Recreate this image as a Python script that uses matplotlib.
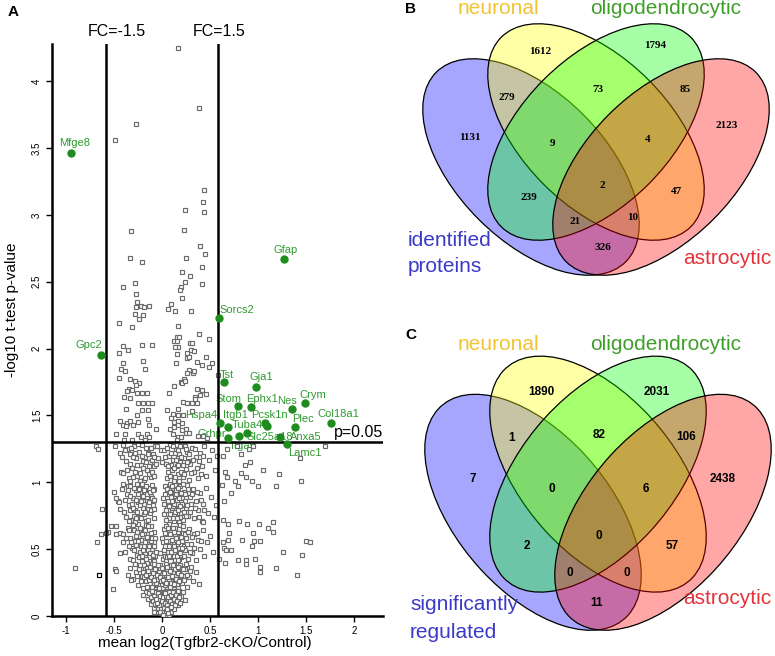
import numpy as np
import matplotlib
matplotlib.use("Agg")
import matplotlib.pyplot as plt
from matplotlib.patches import Ellipse
from matplotlib.transforms import Affine2D

plt.rcParams['font.family'] = ['Liberation Sans', 'DejaVu Sans']

# ---------------- panel A: volcano plot ----------------
# proteins above p=0.05 between the FC lines
upper_pts = [(0.17,4.25),(0.38,3.80),(-0.27,3.68),(-0.49,3.56),(0.44,3.19),(0.42,3.10),(0.24,3.04),(0.44,3.02),
    (-0.32,2.88),(0.23,2.89),(0.39,2.77),(0.45,2.71),(-0.33,2.68),(0.25,2.68),(-0.21,2.65),(0.41,2.61),(0.21,2.57),
    (0.29,2.54),(0.24,2.50),(-0.28,2.49),(0.41,2.48),(-0.41,2.46),(0.20,2.46),(0.19,2.44),(-0.27,2.41),(0.21,2.38),
    (-0.26,2.35),(-0.22,2.32),(-0.19,2.31),(-0.14,2.32),(-0.27,2.31),(0.09,2.33),(0.06,2.30),(0.13,2.28),(0.30,2.28),
    (-0.28,2.26),(-0.20,2.25),(-0.24,2.22),(-0.45,2.19),(-0.31,2.16),(0.17,2.17),
    (0.15,2.09),(0.18,2.09),(0.38,2.11),(0.12,2.06),(0.15,2.06),(-0.21,2.03),(-0.11,2.03),(-0.41,2.02),(0.29,2.04),
    (0.31,2.04),(0.16,2.01),(0.13,2.01),(0.30,1.99),(0.49,2.07),(-0.36,1.99),(-0.45,1.97),(0.15,1.96),(0.26,1.97),
    (0.33,1.98),(-0.20,1.91),(0.26,1.93),(0.28,1.94),(-0.41,1.89),(0.14,1.89),(0.36,1.90),(0.41,1.88),(0.46,1.94),
    (0.52,1.89),(0.49,1.86),(-0.43,1.85),(-0.39,1.83),(-0.18,1.85),(0.28,1.84),(0.26,1.82),(0.32,1.82),(0.33,1.83),
    (-0.45,1.78),(-0.34,1.77),(-0.28,1.76),(-0.24,1.74),(-0.27,1.73),(0.20,1.75),(0.23,1.77),(0.21,1.74),(0.24,1.76),
    (-0.35,1.70),(-0.37,1.68),(-0.31,1.69),(-0.21,1.67),(-0.16,1.67),(-0.26,1.67),(0.07,1.67),(0.12,1.72),(0.36,1.70),
    (0.41,1.69),(0.46,1.66),(-0.40,1.64),(-0.34,1.63),(0.34,1.64),(0.39,1.65),(-0.25,1.59),(-0.20,1.59),(-0.15,1.59),
    (-0.11,1.59),(0.22,1.60),(0.26,1.59),(0.31,1.59),(0.36,1.59),(0.34,1.62),(-0.38,1.55),(-0.21,1.54),(-0.15,1.54),
    (0.05,1.54),(0.16,1.55),(0.31,1.53),(-0.26,1.50),(0.11,1.51),(0.16,1.50),(0.22,1.50),(-0.44,1.46),(-0.41,1.43),
    (-0.37,1.44),(-0.34,1.46),(-0.38,1.42),(-0.25,1.45),(-0.30,1.43),(-0.15,1.47),(-0.14,1.43),(-0.06,1.40),(0.09,1.48),
    (0.12,1.45),(0.16,1.46),(0.08,1.40),(0.12,1.41),(0.17,1.43),(0.21,1.44),(0.25,1.40),(0.21,1.39),(0.25,1.37),
    (-0.48,1.36),(-0.39,1.36),(-0.25,1.36),(-0.22,1.34),(-0.16,1.36),(-0.14,1.34),(-0.18,1.32),(-0.40,1.32),(-0.31,1.32),
    (0.11,1.36),(0.16,1.34),(0.15,1.32),(0.20,1.34),(0.28,1.37),(0.37,1.35),(0.47,1.33),(0.42,1.35),(0.58,1.80)]

# proteins right of FC=1.5 but not significant
right_pts = [(1.69,1.27),(1.44,1.18),(0.90,1.25),(0.95,1.27),(0.82,1.21),(0.78,1.27),(0.63,1.20),(0.67,1.25),
    (0.91,1.15),(0.86,1.13),(1.05,1.09),(1.22,1.06),(1.45,1.01),(0.82,1.07),(0.87,1.04),(0.93,1.01),(0.76,1.01),
    (1.00,0.97),(1.18,0.97),(0.79,0.97),(0.72,0.92),(0.64,0.86),(0.63,0.72),(0.69,0.69),(0.80,0.71),(0.88,0.69),
    (1.01,0.69),(1.15,0.70),(1.10,0.66),(1.15,0.63),(0.70,0.62),(0.95,0.62),(0.83,0.57),(0.96,0.56),(1.02,0.56),
    (0.93,0.52),(1.50,0.56),(1.54,0.55),(1.26,0.48),(1.46,0.46),(0.63,0.55),(0.69,0.57),(0.64,0.51),(0.66,0.49),
    (0.72,0.49),(0.97,0.43),(0.79,0.42),(0.87,0.42),(0.87,0.39),(0.65,0.40),(1.02,0.37),(1.02,0.33),(1.18,0.36),
    (1.40,0.31),(0.59,0.43),(0.65,1.08),(0.68,1.04),(0.62,0.98)]

# proteins left of FC=-1.5 but not significant
left_pts = [(-0.69,1.27),(-0.67,1.25),(-0.63,0.80),(-0.64,0.61),(-0.68,0.55),(-0.91,0.36)]
odd_pt = (-0.66, 0.31)

# the dense non-regulated core
core_pts = [
    (-0.49,1.27),(-0.44,1.22),(-0.41,1.28),(-0.38,1.16),(-0.36,1.25),(-0.33,1.21),(-0.31,1.11),(-0.29,1.27),(-0.27,1.18),
    (-0.26,1.05),(-0.24,1.23),(-0.22,1.13),(-0.21,1.28),(-0.19,1.02),(-0.18,1.19),(-0.16,1.09),(-0.15,1.25),(-0.13,1.15),
    (-0.12,1.04),(-0.10,1.21),(-0.09,1.12),(-0.07,1.27),(-0.43,1.08),(-0.35,1.03),(-0.30,1.19),(-0.28,1.08),(-0.23,1.01),
    (-0.20,1.16),(-0.17,1.26),(-0.14,1.06),(-0.11,1.17),(-0.04,1.18),(-0.01,1.24),(0.00,1.15),(-0.05,1.27),
    (0.02,1.24),(0.04,1.14),(0.05,1.03),(0.07,1.20),(0.08,1.28),(0.10,1.09),(0.11,1.17),(0.12,1.01),(0.14,1.25),
    (0.15,1.12),(0.17,1.06),(0.18,1.21),(0.19,1.15),(0.21,1.27),(0.22,1.04),(0.23,1.18),(0.25,1.10),(0.26,1.23),
    (0.28,1.02),(0.29,1.14),(0.31,1.26),(0.33,1.08),(0.35,1.19),(0.37,1.03),(0.39,1.22),(0.41,1.12),(0.44,1.27),
    (0.46,1.05),(0.49,1.17),(0.52,1.24),(0.55,1.09),(0.57,1.20),(0.09,1.13),(0.16,1.18),(0.20,1.08),(0.27,1.16),
    (0.13,1.22),(0.24,1.27),(0.06,1.08),(-0.41,1.07),(-0.36,0.97),
    (-0.46,0.86),(-0.42,0.95),(-0.40,0.78),(-0.37,0.91),(-0.35,0.83),(-0.33,0.97),(-0.32,0.72),(-0.30,0.88),(-0.28,0.79),
    (-0.27,0.94),(-0.25,0.85),(-0.24,0.74),(-0.22,0.98),(-0.21,0.89),(-0.20,0.81),(-0.18,0.93),(-0.17,0.71),(-0.16,0.86),
    (-0.14,0.96),(-0.13,0.77),(-0.12,0.90),(-0.10,0.83),(-0.09,0.73),(-0.08,0.95),(-0.29,0.75),(-0.26,0.99),(-0.23,0.92),
    (-0.19,0.76),(-0.15,0.80),(-0.11,0.98),(-0.38,0.74),(-0.34,0.90),(-0.44,0.80),(-0.50,0.93),(-0.48,0.88),(-0.45,0.85),
    (0.01,0.88),(0.02,0.76),(0.03,0.97),(0.05,0.82),(0.06,0.91),(0.07,0.73),(0.08,0.99),(0.09,0.85),(0.10,0.78),
    (0.11,0.94),(0.12,0.71),(0.13,0.87),(0.14,0.80),(0.15,0.96),(0.16,0.74),(0.17,0.90),(0.18,0.83),(0.19,0.97),
    (0.20,0.77),(0.21,0.88),(0.22,0.72),(0.23,0.93),(0.25,0.81),(0.26,0.98),(0.27,0.75),(0.29,0.89),(0.30,0.84),
    (0.32,0.95),(0.33,0.73),(0.35,0.86),(0.37,0.79),(0.39,0.92),(0.41,0.71),(0.43,0.84),(0.46,0.96),(0.48,0.77),
    (0.51,0.89),(0.54,0.74),(0.56,0.83),(0.04,0.72),(0.09,0.93),(0.13,0.98),(0.18,0.70),(0.24,0.86),(0.28,0.92),
    (0.16,0.84),(0.06,0.79),(0.11,0.82),(0.21,0.80),(0.14,0.91),
    (-0.44,0.62),(-0.41,0.55),(-0.39,0.48),(-0.36,0.66),(-0.34,0.58),(-0.33,0.43),(-0.31,0.51),(-0.29,0.64),(-0.28,0.56),
    (-0.26,0.46),(-0.25,0.69),(-0.24,0.60),(-0.22,0.52),(-0.21,0.41),(-0.20,0.65),(-0.19,0.57),(-0.18,0.47),(-0.17,0.68),
    (-0.16,0.54),(-0.15,0.61),(-0.14,0.44),(-0.13,0.58),(-0.12,0.67),(-0.11,0.50),(-0.10,0.42),(-0.09,0.63),(-0.08,0.55),
    (-0.07,0.45),(-0.23,0.48),(-0.27,0.60),(-0.30,0.42),(-0.35,0.52),(-0.19,0.62),(-0.15,0.49),(-0.12,0.56),
    (-0.56,0.63),(-0.48,0.67),(-0.48,0.61),(-0.41,0.61),(-0.44,0.47),(-0.35,0.71),(-0.53,0.67),(-0.58,0.62),
    (-0.02,0.47),(0.00,0.58),(0.01,0.43),(0.02,0.65),(0.03,0.52),(0.04,0.41),(0.05,0.61),(0.06,0.48),(0.07,0.69),
    (0.08,0.55),(0.09,0.44),(0.10,0.63),(0.11,0.50),(0.12,0.57),(0.13,0.42),(0.14,0.66),(0.15,0.53),(0.16,0.46),
    (0.17,0.60),(0.18,0.51),(0.19,0.68),(0.20,0.44),(0.21,0.56),(0.22,0.62),(0.24,0.49),(0.25,0.58),(0.27,0.43),
    (0.28,0.65),(0.30,0.54),(0.31,0.47),(0.33,0.61),(0.35,0.42),(0.37,0.57),(0.39,0.50),(0.42,0.64),(0.44,0.45),
    (0.47,0.55),(0.50,0.60),(0.53,0.48),(0.03,0.45),(0.06,0.56),(0.09,0.64),(0.12,0.45),(0.15,0.59),(0.18,0.43),
    (0.23,0.52),(0.04,0.67),(0.10,0.52),(0.13,0.61),(0.43,0.70),
    (-0.33,0.36),(-0.30,0.28),(-0.27,0.33),(-0.25,0.23),(-0.23,0.38),(-0.21,0.30),(-0.20,0.21),(-0.18,0.35),(-0.17,0.26),
    (-0.15,0.39),(-0.14,0.31),(-0.13,0.22),(-0.12,0.34),(-0.11,0.27),(-0.10,0.37),(-0.09,0.24),(-0.08,0.32),(-0.07,0.20),
    (-0.06,0.36),(-0.05,0.28),(-0.04,0.23),(-0.03,0.33),(-0.02,0.38),(-0.01,0.26),(0.00,0.31),(0.01,0.21),(0.02,0.35),
    (0.03,0.28),(0.04,0.39),(0.05,0.24),(0.06,0.32),(0.07,0.37),(0.08,0.22),(0.09,0.29),(0.10,0.34),(0.11,0.26),
    (0.12,0.39),(0.13,0.23),(0.14,0.31),(0.15,0.36),(0.16,0.27),(0.17,0.21),(0.18,0.33),(0.19,0.38),(0.21,0.25),
    (0.22,0.30),(0.24,0.35),(0.26,0.22),(0.28,0.29),(0.30,0.37),(0.32,0.26),(0.35,0.33),(0.38,0.24),(-0.16,0.22),
    (-0.19,0.29),(-0.06,0.25),(0.03,0.23),(0.07,0.27),(0.11,0.33),(0.15,0.24),(0.20,0.36),(0.00,0.36),(-0.03,0.21),
    (0.05,0.35),(0.09,0.38),(0.13,0.28),(-0.09,0.30),(-0.28,0.39),(0.25,0.39),(-0.51,0.20),(-0.49,0.35),(-0.48,0.34),
    (-0.36,0.31),(-0.32,0.27),
    (-0.17,0.18),(-0.15,0.13),(-0.13,0.19),(-0.12,0.09),(-0.11,0.15),(-0.10,0.17),(-0.09,0.06),(-0.08,0.12),(-0.07,0.19),
    (-0.06,0.08),(-0.05,0.14),(-0.05,0.03),(-0.04,0.11),(-0.03,0.17),(-0.03,0.05),(-0.02,0.09),(-0.01,0.13),(-0.01,0.02),
    (0.00,0.07),(0.00,0.16),(0.01,0.04),(0.01,0.11),(0.02,0.01),(0.02,0.08),(0.03,0.14),(0.03,0.05),(0.04,0.19),
    (0.04,0.10),(0.05,0.02),(0.05,0.13),(0.06,0.07),(0.06,0.17),(0.07,0.10),(0.08,0.04),(0.08,0.15),(0.09,0.12),
    (0.10,0.18),(0.10,0.07),(0.11,0.14),(0.12,0.10),(0.13,0.19),(0.14,0.13),(0.15,0.17),(0.17,0.11),(0.18,0.19),
    (0.20,0.15),(0.22,0.18),(-0.20,0.16),(-0.08,0.03),(-0.04,0.06),(0.01,0.18),(0.03,0.00),(0.07,0.01),(-0.02,0.12),
    (0.09,0.03),(-0.06,0.16),(0.02,0.15),(0.06,0.12),(-0.10,0.11),(0.12,0.05),(-0.14,0.17),(0.16,0.08),(0.24,0.12),
    (-0.01,0.08),
    # left arm, second pass
    (-0.42,1.19),(-0.39,1.24),(-0.37,1.09),(-0.34,1.14),(-0.32,1.26),(-0.30,1.04),(-0.28,1.22),(-0.26,1.13),(-0.25,1.29),
    (-0.23,1.07),(-0.21,1.20),(-0.20,1.11),(-0.18,1.03),(-0.17,1.15),(-0.15,1.21),(-0.14,1.12),(-0.12,1.26),(-0.11,1.08),
    (-0.09,1.19),(-0.08,1.05),(-0.06,1.14),
    (-0.41,0.99),(-0.39,0.87),(-0.36,0.94),(-0.34,0.79),(-0.33,1.01),(-0.31,0.84),(-0.29,0.96),(-0.28,0.70),(-0.27,0.87),
    (-0.26,0.78),(-0.24,0.95),(-0.23,0.83),(-0.22,0.73),(-0.21,0.99),(-0.20,0.90),(-0.19,0.84),(-0.18,0.78),(-0.17,0.97),
    (-0.16,0.91),(-0.15,0.72),(-0.14,0.85),(-0.13,0.93),(-0.12,0.79),(-0.11,0.88),(-0.10,0.94),(-0.09,0.80),(-0.08,0.87),
    (-0.25,0.91),(-0.22,0.86),(-0.19,0.94),(-0.30,0.81),(-0.27,0.73),
    (-0.38,0.58),(-0.35,0.64),(-0.32,0.55),(-0.30,0.68),(-0.29,0.49),(-0.27,0.53),(-0.26,0.63),(-0.24,0.44),(-0.23,0.66),
    (-0.22,0.57),(-0.21,0.61),(-0.20,0.49),(-0.19,0.52),(-0.18,0.64),(-0.17,0.43),(-0.16,0.59),(-0.15,0.67),(-0.14,0.52),
    (-0.13,0.47),(-0.12,0.62),(-0.11,0.58),(-0.10,0.46),(-0.09,0.52),(-0.08,0.41),(-0.07,0.58),(-0.06,0.48),(-0.21,0.45),
    (-0.18,0.55),(-0.25,0.56),(-0.16,0.40),
    (-0.26,0.30),(-0.24,0.35),(-0.22,0.26),(-0.20,0.33),(-0.19,0.38),(-0.17,0.31),(-0.16,0.36),(-0.14,0.27),(-0.13,0.37),
    (-0.12,0.29),(-0.11,0.22),(-0.10,0.32),(-0.08,0.27),(-0.07,0.35),(-0.05,0.31),(-0.04,0.38),(-0.02,0.29),(-0.15,0.34),
    (-0.09,0.39),
    # right arm, second pass
    (0.03,1.19),(0.05,1.26),(0.06,1.12),(0.08,1.05),(0.09,1.22),(0.11,1.27),(0.12,1.11),(0.13,1.04),(0.14,1.17),
    (0.16,1.24),(0.17,1.13),(0.18,1.01),(0.19,1.27),(0.20,1.19),(0.22,1.13),(0.23,1.06),(0.25,1.25),(0.26,1.15),
    (0.28,1.21),(0.30,1.07),(0.32,1.17),(0.34,1.25),(0.36,1.11),(0.38,1.16),(0.40,1.06),(0.43,1.20),
    (0.02,0.84),(0.03,0.91),(0.04,0.79),(0.05,0.95),(0.06,0.86),(0.07,0.82),(0.08,0.76),(0.09,0.89),(0.10,0.97),
    (0.11,0.73),(0.12,0.84),(0.13,0.78),(0.14,0.94),(0.15,0.87),(0.16,0.79),(0.17,0.96),(0.18,0.88),(0.19,0.74),
    (0.20,0.92),(0.21,0.84),(0.22,0.99),(0.23,0.78),(0.24,0.91),(0.26,0.83),(0.27,0.95),(0.29,0.78),(0.31,0.91),
    (0.34,0.81),(0.36,0.93),(0.38,0.74),(0.40,0.87),(0.44,0.79),(0.10,0.86),(0.15,0.73),(0.19,0.82),(0.25,0.75),
    (0.08,0.93),
    (0.01,0.55),(0.02,0.49),(0.03,0.62),(0.04,0.56),(0.05,0.44),(0.06,0.66),(0.07,0.52),(0.08,0.61),(0.09,0.48),
    (0.10,0.57),(0.11,0.66),(0.12,0.52),(0.13,0.49),(0.14,0.58),(0.15,0.45),(0.16,0.63),(0.17,0.55),(0.18,0.65),
    (0.19,0.47),(0.20,0.59),(0.21,0.51),(0.22,0.67),(0.23,0.45),(0.24,0.61),(0.26,0.54),(0.27,0.63),(0.29,0.48),
    (0.31,0.59),(0.33,0.51),(0.36,0.62),(0.40,0.56),(0.07,0.45),(0.12,0.63),(0.17,0.42),
    (0.01,0.27),(0.02,0.32),(0.04,0.25),(0.05,0.37),(0.06,0.29),(0.08,0.34),(0.09,0.25),(0.10,0.30),(0.11,0.38),
    (0.12,0.24),(0.13,0.35),(0.14,0.28),(0.16,0.32),(0.17,0.37),(0.18,0.26),(0.20,0.31),(0.22,0.35),(0.23,0.27),
    (0.26,0.31),(0.29,0.34),
    # tip of the V, second pass
    (-0.12,0.14),(-0.09,0.16),(-0.07,0.09),(-0.06,0.13),(-0.04,0.17),(-0.03,0.08),(-0.02,0.15),(-0.01,0.05),(0.00,0.11),
    (0.00,0.03),(0.01,0.14),(0.02,0.06),(0.02,0.18),(0.03,0.10),(0.04,0.04),(0.04,0.15),(0.05,0.08),(0.06,0.02),
    (0.06,0.14),(0.07,0.18),(0.07,0.06),(0.08,0.11),(0.09,0.16),(0.10,0.09),(0.11,0.18),(0.12,0.13),(0.13,0.08),
    (0.14,0.16),(0.15,0.11),(0.16,0.19),(0.18,0.14),(0.19,0.10),(-0.08,0.18),(-0.05,0.10),(-0.02,0.03),(0.01,0.01),
    (0.05,0.05),(-0.11,0.19),(0.09,0.07),(0.03,0.17)]

# significantly regulated proteins (green)
genes = ["Mfge8","Gpc2","Gfap","Sorcs2","Tst","Gja1","Stom","Ephx1","Nes","Crym","Col18a1","Hspa4l",
         "Itgb1","Pcsk1n","Slc25a18","Plec","Tuba4a","Anxa5","Lamc1","Itgav","Grhpr"]
gene_x = [-0.95,-0.64,1.27,0.59,0.64,0.98,0.79,0.92,1.35,1.49,1.76,0.60,0.69,1.07,1.09,1.38,0.88,1.23,1.30,0.80,0.69]
gene_y = [3.46,1.95,2.67,2.23,1.75,1.71,1.57,1.56,1.55,1.59,1.44,1.44,1.41,1.44,1.42,1.41,1.37,1.34,1.29,1.35,1.33]
# label anchor (data units) and alignment for each gene label
gene_lab = {"Mfge8":(-0.91,3.54,"center"),"Gpc2":(-0.76,2.03,"center"),"Gfap":(1.29,2.74,"center"),
            "Sorcs2":(0.60,2.29,"left"),"Tst":(0.60,1.80,"left"),"Gja1":(1.03,1.79,"center"),
            "Stom":(0.69,1.62,"center"),"Ephx1":(1.04,1.62,"center"),"Nes":(1.30,1.61,"center"),
            "Crym":(1.57,1.65,"center"),"Col18a1":(1.83,1.51,"center"),"Hspa4l":(0.42,1.50,"center"),
            "Itgb1":(0.76,1.50,"center"),"Pcsk1n":(1.12,1.50,"center"),"Slc25a18":(1.12,1.34,"center"),
            "Plec":(1.47,1.47,"center"),"Tuba4a":(0.92,1.425,"center"),"Anxa5":(1.50,1.34,"center"),
            "Lamc1":(1.49,1.22,"center"),"Itgav":(0.84,1.27,"center"),"Grhpr":(0.52,1.36,"center")}

XTICKS = [-1, -0.5, 0, 0.5, 1, 1.5, 2]
YTICKS = [0, 0.5, 1, 1.5, 2, 2.5, 3, 3.5, 4]
FC_THRESH = 0.585   # log2(1.5)
P_THRESH = 1.301    # -log10(0.05)

# ---------------- panels B, C: Venn diagrams ----------------
venn_fill = ["#0000ff", "#ffff00", "#00ff00", "#ff0000"]   # identified/sig, neuronal, oligo, astro
venn_text_col = ["#3a3ac8", "#f2c232", "#3d9f2a", "#e5333b"]
# region counts (same region order in both panels)
counts_B = [1612, 1794, 279, 73, 85, 1131, 2123, 9, 4, 2, 239, 47, 21, 10, 326]
counts_C = [1890, 2031, 1, 82, 106, 7, 2438, 0, 6, 0, 2, 57, 0, 0, 11]

# ellipse layout (panel-local pixel frame, y down): centre x, centre y, angle
ELL = [(141, 167, 45), (206, 132, 45), (206, 132, -45), (271, 167, -45)]
ELL_W, ELL_H = 268, 148
pos_B = [(150,52),(265,46),(117,97),(208,90),(295,89),(80,137),(337,126),(162,143),(258,139),(212,186),
         (139,197),(286,192),(185,221),(243,218),(213,247)]
pos_C = [(151,72),(267,72),(122,118),(209,115),(296,117),(83,159),(333,159),(162,169),(256,169),(209,216),
         (137,226),(282,226),(180,253),(237,253),(207,283)]


fig = plt.figure(figsize=(7.75, 6.56), dpi=100)

# ---- A ----
ax = fig.add_axes([51.7/775, 40/656, 331.4/775, 572.2/656])
sq = dict(ls="none", marker="s", ms=3.2, mfc="white", mec="#6b6b6b", mew=0.85, zorder=3)
for pts in (core_pts, upper_pts, right_pts, left_pts):
    a = np.array(pts)
    ax.plot(a[:, 0], a[:, 1], **sq)
ax.plot([odd_pt[0]], [odd_pt[1]], ls="none", marker="s", ms=3.2, mfc="white", mec="black", mew=0.85, zorder=3)

ax.axvline(-FC_THRESH, color="black", lw=1.8, zorder=4)
ax.axvline(FC_THRESH, color="black", lw=1.8, zorder=4)
ax.axhline(P_THRESH, color="black", lw=1.8, zorder=4)

ax.plot(gene_x, gene_y, ls="none", marker="o", ms=5, color="#1e8c1e", zorder=6)
for g in genes:
    tx, ty, ha = gene_lab[g]
    ax.text(tx, ty, g, color="#2f9a2f", fontsize=8, ha=ha, va="center", zorder=2)

ax.text(2.30, 1.37, "p=0.05", fontsize=11.5, ha="right", va="center")
ax.text(-0.47, 4.375, "FC=-1.5", fontsize=11.5, ha="center", va="center", clip_on=False)
ax.text(0.59, 4.375, "FC=1.5", fontsize=11.5, ha="center", va="center", clip_on=False)

ax.set_xlim(-1.15, 2.3)
ax.set_ylim(0, 4.28)
ax.set_xticks(XTICKS)
ax.set_xticklabels([f"{t:g}" for t in XTICKS], fontsize=7)
ax.set_yticks(YTICKS)
ax.set_yticklabels([f"{t:g}" for t in YTICKS], fontsize=7, rotation=90, va="center")
ax.tick_params(direction="out", length=4, width=1, pad=3)
for s in ("top", "right"):
    ax.spines[s].set_visible(False)
for s in ("left", "bottom"):
    ax.spines[s].set_linewidth(1.8)
ax.set_xlabel("mean log2(Tgfbr2-cKO/Control)", fontsize=11, labelpad=1)
ax.xaxis.set_label_coords(0.463, -0.035)
ax.set_ylabel("-log10 t-test p-value", fontsize=11)
ax.yaxis.set_label_coords(-0.10, 0.535)


def venn(top_px, height_px, yscale, yshift, counts, pos, num_font, num_size, cats):
    vx = fig.add_axes([390/775, 1 - (top_px + height_px)/656, 385/775, height_px/656])
    vx.set_xlim(0, 385)
    vx.set_ylim(height_px, 0)
    tr = Affine2D().scale(1, yscale).translate(2 if yscale != 1 else 0, yshift) + vx.transData
    for (cx, cy, ang), col in zip(ELL, venn_fill):
        vx.add_patch(Ellipse((cx, cy), ELL_W, ELL_H, angle=ang, transform=tr,
                             facecolor=matplotlib.colors.to_rgba(col, 0.35), edgecolor="black", lw=0.9))
    for n, (u, v) in zip(counts, pos):
        vx.text(u, v, str(n), fontsize=num_size, fontweight="bold", family=num_font, ha="center", va="center")
    for (u, v, txt, ha), col in cats:
        vx.text(u, v, txt, fontsize=15, color=col, ha=ha, va="center")
    vx.axis("off")


venn(0, 320, 1.0, 0, counts_B, pos_B, ["Liberation Serif", "DejaVu Serif"], 8,
     [((18, 240, "identified", "left"), venn_text_col[0]),
      ((18, 267, "proteins", "left"), venn_text_col[0]),
      ((108, 9, "neuronal", "center"), venn_text_col[1]),
      ((276, 9, "oligodendrocytic", "center"), venn_text_col[2]),
      ((337, 259, "astrocytic", "center"), venn_text_col[3])])

venn(320, 336, 1.09, 10.25, counts_C, pos_C, ["Liberation Sans", "DejaVu Sans"], 8.5,
     [((20, 285, "significantly", "left"), venn_text_col[0]),
      ((20, 312, "regulated", "left"), venn_text_col[0]),
      ((108, 25, "neuronal", "center"), venn_text_col[1]),
      ((276, 25, "oligodendrocytic", "center"), venn_text_col[2]),
      ((337, 278, "astrocytic", "center"), venn_text_col[3])])

fig.text(8/775, 1 - 12/656, "A", fontsize=11, fontweight="bold", ha="left", va="center")
fig.text(405/775, 1 - 9/656, "B", fontsize=11, fontweight="bold", ha="left", va="center")
fig.text(405/775, 1 - 335/656, "C", fontsize=11, fontweight="bold", ha="left", va="center")

fig.savefig("out.png", dpi=100)
